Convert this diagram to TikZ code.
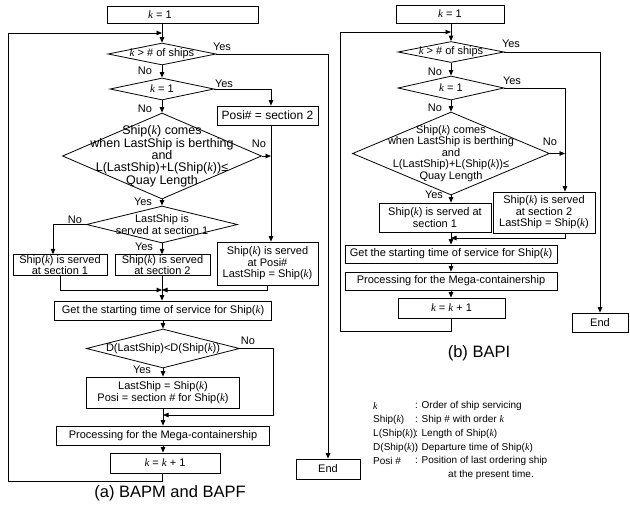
\documentclass[tikz,border=0pt]{standalone}
\usepackage{fontspec}
\setmainfont{Liberation Sans}
\newfontfamily\kserif{Liberation Serif}
\usetikzlibrary{shapes.geometric,arrows.meta}
\newcommand{\kv}{{\kserif\itshape k}}
\newcommand{\fs}{\fontsize{11}{11.5}\selectfont}
\newcommand{\fsb}{\fontsize{12.5}{11.6}\selectfont}
\newcommand{\fsl}{\fontsize{10}{12}\selectfont}
\newcommand{\fcap}{\fontsize{16.5}{18}\selectfont}
\tikzset{
  ln/.style={line width=0.8pt},
  arr/.style={ln,-{Triangle[length=5.5pt,width=4.5pt]}},
  box/.style={draw,ln,rectangle,font=\fs,align=center,inner sep=0.5pt},
  dia/.style={draw,ln,diamond,inner sep=0pt},
  dtxt/.style={font=\fs,align=center,inner sep=0pt},
  dtxtb/.style={font=\fsb,align=center,inner sep=0pt},
  yn/.style={font=\fs,inner sep=0pt},
  lg/.style={font=\fsl,inner sep=0pt,anchor=west},
  captxt/.style={font=\fcap,inner sep=0pt}
}
\begin{document}
\begin{tikzpicture}[x=1pt,y=-1pt]
\useasboundingbox (0,0) rectangle (630,515);
% ================= (a) =================
\node[box,minimum width=151pt,minimum height=17pt] (ka) at (182.5,14.5) {};
\node[dtxt] (kat) at (160,14.5) {\kv{} = 1};
\coordinate (ja) at (162,33);
\node[dia,minimum width=108pt,minimum height=22pt,label={[dtxt]center:\kv{} > \# of ships}] (d1a) at (162,54) {};
\node[dia,minimum width=104pt,minimum height=22pt,label={[dtxt]center:\kv{} = 1}] (d2a) at (162,89) {};
\node[dia,minimum width=199pt,minimum height=86pt,label={[dtxtb]center:Ship(\kv) comes\\when LastShip is berthing\\and\\L(LastShip)+L(Ship(\kv))≤\\Quay Length}] (d3a) at (162,156) {};
\node[dia,minimum width=151pt,minimum height=37pt,label={[dtxt]center:LastShip is\\served at section 1}] (d4a) at (162,224.5) {};
\node[box,font=\fontsize{12}{12}\selectfont,minimum width=101pt,minimum height=19pt] (pa) at (267.5,115.5) {Posi\# = section 2};
\node[box,minimum width=94pt,minimum height=20pt] (b1a) at (60,265) {Ship(\kv) is served\\at section 1};
\node[box,minimum width=95pt,minimum height=20pt] (b2a) at (162.5,265) {Ship(\kv) is served\\at section 2};
\node[box,minimum width=101pt,minimum height=43pt] (b3a) at (267.5,263.5) {Ship(\kv) is served\\at Posi\#\\LastShip = Ship(\kv)};
\node[box,minimum width=217pt,minimum height=19pt] (ga) at (163,310.5) {Get the starting time of service for Ship(\kv)};
\node[dia,minimum width=153pt,minimum height=39pt,label={[dtxt]center:D(LastShip)<D(Ship(\kv))}] (d5a) at (163,348.5) {};
\node[box,minimum width=153pt,minimum height=31pt] (b5a) at (163,392.5) {LastShip = Ship(\kv)\\Posi = section \# for Ship(\kv)};
\node[box,minimum width=213pt,minimum height=19pt] (pra) at (163,435.5) {Processing for the Mega-containership};
\node[box,minimum width=110pt,minimum height=20pt] (kpa) at (165,463) {\kv{} = \kv{} + 1};
\node[box,minimum width=64pt,minimum height=20pt] (enda) at (328,469) {End};
\node[captxt] (capa) at (170,493) {(a) BAPM and BAPF};
\coordinate (va) at (271,0);
\coordinate (c53) at (53,0);
\coordinate (ma) at (162,290);
\coordinate (na) at (273,0);
\coordinate (m2a) at (163,415);
\coordinate (la) at (8,481);
\draw[arr] (ka.south -| ja) -- (d1a.north);
\draw[arr] (d1a.south) -- (d2a.north);
\draw[arr] (d2a.south) -- (d3a.north);
\draw[arr] (d3a.south) -- (d4a.north);
\draw[arr] (d1a.east) -| (enda.north);
\draw[arr] (d2a.east) -| (pa.north -| va);
\draw[arr] (pa.south -| va) -- (b3a.north -| va);
\draw[arr] (d3a.east) -- (d3a.east -| va);
\draw[arr] (d4a.west) -| (b1a.north -| c53);
\draw[arr] (d4a.south) -- (d4a.south |- b2a.north);
\draw[arr] (b1a.south) |- (ma);
\draw[arr] (b3a.south) |- (ma);
\draw[arr] (b2a.south -| ma) -- (ga.north -| ma);
\draw[arr] (ga.south) -- (d5a.north);
\draw[arr] (d5a.south) -- (b5a.north);
\draw[arr] (d5a.east) -| (na |- m2a) -- (m2a);
\draw[arr] (b5a.south) -- (pra.north);
\draw[arr] (pra.south) -- (kpa.north -| pra.south);
\draw[arr] (kpa.south -| ja) |- (la) |- (ja);
\node[yn] (ya1) at (222,47) {Yes};
\node[yn] (na1) at (145,71) {No};
\node[yn] (ya2) at (224,84) {Yes};
\node[yn] (na2) at (145,109) {No};
\node[yn] (na3) at (259,144) {No};
\node[yn] (ya3) at (143,202) {Yes};
\node[yn] (na4) at (75,220) {No};
\node[yn] (ya4) at (144,247) {Yes};
\node[yn] (na5) at (248,341) {No};
\node[yn] (ya5) at (142,370) {Yes};
% ================= (b) =================
\node[box,minimum width=108pt,minimum height=18pt] (kb) at (450,14) {\kv{} = 1};
\coordinate (jb) at (451,32);
\node[dia,minimum width=106pt,minimum height=21pt,label={[dtxt]center:\kv{} > \# of ships}] (d1b) at (451,52) {};
\node[dia,minimum width=106pt,minimum height=24pt,label={[dtxt]center:\kv{} = 1}] (d2b) at (451,88) {};
\node[dia,minimum width=197pt,minimum height=83pt,label={[dtxt]center:Ship(\kv) comes\\when LastShip is berthing\\and\\L(LastShip)+L(Ship(\kv))≤\\Quay Length}] (d3b) at (451,153.5) {};
\node[box,minimum width=112pt,minimum height=29pt] (b1b) at (435,217.5) {Ship(\kv) is served at\\section 1};
\node[box,minimum width=102pt,minimum height=41pt] (b2b) at (544,212.5) {Ship(\kv) is served\\at section 2\\LastShip = Ship(\kv)};
\node[box,minimum width=212pt,minimum height=18pt] (gb) at (451,254) {Get the starting time of service for Ship(\kv)};
\node[box,minimum width=212pt,minimum height=18pt] (prb) at (451,281) {Processing for the Mega-containership};
\node[box,minimum width=107pt,minimum height=20pt] (kpb) at (451.5,308) {\kv{} = \kv{} + 1};
\node[box,minimum width=56pt,minimum height=19pt] (endb) at (600,322.5) {End};
\node[captxt] (capb) at (479,353) {(b) BAPI};
\coordinate (vb) at (565,0);
\coordinate (mb) at (451,238);
\coordinate (lb) at (340,331);
\draw[arr] (kb.south -| jb) -- (d1b.north);
\draw[arr] (d1b.south) -- (d2b.north);
\draw[arr] (d2b.south) -- (d3b.north);
\draw[arr] (d1b.east) -| (endb.north);
\draw[arr] (d2b.east) -| (b2b.north -| vb);
\draw[arr] (d3b.east) -- (d3b.east -| vb);
\draw[arr] (d3b.south) -- (d3b.south |- b1b.north);
\draw[arr] (b1b.south -| mb) -- (gb.north);
\draw[arr] (b2b.south -| vb) |- (mb);
\draw[arr] (gb.south) -- (prb.north);
\draw[arr] (prb.south) -- (kpb.north -| prb.south);
\draw[arr] (kpb.south -| jb) |- (lb) |- (jb);
\node[yn] (yb1) at (511,44) {Yes};
\node[yn] (nb1) at (435,72) {No};
\node[yn] (yb2) at (512,81) {Yes};
\node[yn] (nb2) at (435,108) {No};
\node[yn] (nb3) at (550,142) {No};
\node[yn] (yb3) at (434,195) {Yes};
% ================= legend =================
\node[lg] (l1a) at (373,406) {\kv};
\node[lg] (l1b) at (415,406) {: Order of ship servicing};
\node[lg] (l2a) at (373,420) {Ship(\kv)};
\node[lg] (l2b) at (415,420) {: Ship \# with order \kv};
\node[lg] (l3a) at (373,434) {L(Ship(\kv))};
\node[lg] (l3b) at (415,434) {: Length of Ship(\kv)};
\node[lg] (l4a) at (373,448) {D(Ship(\kv))};
\node[lg] (l4b) at (415,448) {: Departure time of Ship(\kv)};
\node[lg] (l5a) at (373,461) {Posi \#};
\node[lg] (l5b) at (415,461) {: Position of last ordering ship};
\node[lg] (l6b) at (448,475) {at the present time.};
\end{tikzpicture}
\end{document}
